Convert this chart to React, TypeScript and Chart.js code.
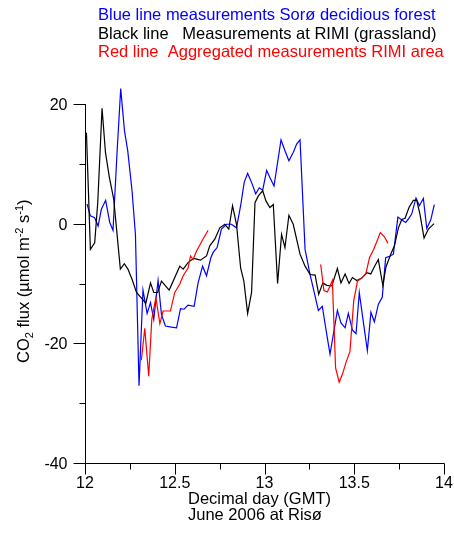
import React, { useEffect, useRef } from "react";
import { Chart, registerables } from "chart.js";

Chart.register(...registerables);

// ---- Data (decimal day, CO2 flux) ----
const blueDays = [
  12.011, 12.03, 12.054, 12.073, 12.091, 12.115, 12.138, 12.156, 12.178, 12.199,
  12.22, 12.238, 12.262, 12.281, 12.301, 12.323, 12.346, 12.365, 12.383, 12.407,
  12.426, 12.448, 12.482, 12.51, 12.532, 12.552, 12.574, 12.608, 12.63, 12.655,
  12.677, 12.701, 12.714, 12.736, 12.76, 12.788, 12.816, 12.844, 12.867, 12.887,
  12.906, 12.928, 12.951, 12.971, 12.99, 13.012, 13.03, 13.053, 13.092, 13.114,
  13.136, 13.16, 13.179, 13.198, 13.226, 13.254, 13.277, 13.3, 13.322, 13.343,
  13.365, 13.406, 13.426, 13.449, 13.467, 13.49, 13.51, 13.528, 13.55, 13.573,
  13.593, 13.612, 13.634, 13.656, 13.675, 13.7, 13.718, 13.743, 13.765, 13.787,
  13.807, 13.82, 13.844, 13.863, 13.885, 13.904, 13.926, 13.946,
];
const blueFlux = [
  3.3, 1.3, 1.0, -0.4, 2.4, 3.9, 0.2, -1.1, 11.6, 22.6,
  15.5, 12.2, 5.5, -1.8, -27.1, -11.1, -15.0, -13.2, -16.0, -9.5,
  -15.2, -17.1, -17.3, -17.4, -14.2, -14.3, -13.6, -13.8, -9.9, -7.1,
  -8.7, -5.7, -4.8, -4.0, -0.9, -0.1, -0.1, -0.7, 3.0, 6.9,
  8.4, 6.9, 5.0, 6.0, 5.6, 8.9, 7.7, 6.3, 14.0, 12.2,
  10.5, 11.9, 13.3, 14.0, -4.3, -8.5, -11.5, -14.5, -13.8, -17.8,
  -21.8, -14.5, -16.6, -17.4, -15.0, -17.8, -18.4, -11.5, -16.3, -21.2,
  -14.8, -16.4, -13.5, -12.3, -5.7, -5.4, -5.1, 1.1, 0.6, 0.2,
  1.0, 1.6, 4.3, 3.0, 4.2, -0.8, 0.6, 3.2,
];

const blackDays = [
  12.008, 12.03, 12.054, 12.071, 12.095, 12.114, 12.136, 12.16, 12.197, 12.219,
  12.239, 12.262, 12.287, 12.339, 12.365, 12.383, 12.405, 12.426, 12.469, 12.528,
  12.547, 12.574, 12.606, 12.643, 12.677, 12.695, 12.723, 12.751, 12.779, 12.801,
  12.822, 12.844, 12.867, 12.885, 12.906, 12.928, 12.947, 12.965, 12.99, 13.008,
  13.03, 13.049, 13.073, 13.095, 13.114, 13.136, 13.16, 13.198, 13.226, 13.254,
  13.282, 13.302, 13.325, 13.347, 13.375, 13.406, 13.426, 13.449, 13.471, 13.49,
  13.514, 13.542, 13.57, 13.592, 13.612, 13.634, 13.659, 13.677, 13.705, 13.724,
  13.746, 13.765, 13.783, 13.805, 13.829, 13.848, 13.866, 13.889, 13.913, 13.945,
];
const blackFlux = [
  15.2, -4.3, -3.2, 3.5, 19.3, 11.9, 7.7, 4.1, -7.6, -6.7,
  -7.6, -9.3, -11.5, -13.3, -9.9, -11.5, -11.5, -9.6, -11.1, -7.1,
  -7.6, -6.5, -5.8, -6.1, -5.4, -3.7, -2.6, -0.7, -0.1, -0.9,
  3.0, -0.1, -7.4, -9.6, -15.0, -11.5, 3.5, 4.6, 5.5, 3.8,
  2.7, 3.2, -10.0, -1.8, -4.0, 1.4, -0.1, -5.1, -7.1, -8.5,
  -8.6, -11.8, -9.9, -10.3, -10.4, -7.5, -9.9, -8.4, -10.0, -9.0,
  -9.5, -9.1, -8.2, -8.4, -7.2, -6.0, -10.3, -7.2, -5.0, -3.7,
  -0.7, 0.7, 0.9, 2.7, 3.9, 3.9, 1.6, -2.4, -0.9, 0.0,
];

// null separates the two measurement periods
const redDays = [
  12.314, 12.333, 12.355, 12.372, 12.395, 12.417, 12.435, 12.457, 12.476, 12.5,
  12.528, 12.547, 12.574, 12.588, 12.602, 12.621, 12.653, 12.686,
  13.0,
  13.313, 13.331, 13.35, 13.365, 13.378, 13.396, 13.416, 13.435, 13.455, 13.476,
  13.497, 13.518, 13.545, 13.565, 13.585, 13.608, 13.627, 13.645, 13.668, 13.688,
];
const redFlux: (number | null)[] = [
  -22.8, -17.5, -25.5, -16.0, -12.4, -16.7, -14.6, -14.6, -14.6, -11.5,
  -10.1, -8.7, -7.4, -5.4, -6.0, -4.6, -2.8, -1.1,
  null,
  -6.8, -11.2, -11.4, -10.4, -9.5, -24.1, -26.5, -25.1, -23.1, -21.4,
  -12.9, -9.6, -9.0, -8.3, -5.7, -4.3, -2.9, -1.5, -2.2, -3.3,
];

const xMajorTicks = [12, 12.5, 13, 13.5, 14];
const xMinorTicks = [12.25, 12.75, 13.25, 13.75];
const yMajorTicks = [20, 0, -20, -40];
const yMinorTicks = [10, -10, -30];

const titleLines = [
  { text: "Blue line measurements Sorø decidious forest", color: "#0000ff" },
  { text: "Black line   Measurements at RIMI (grassland)", color: "#000000" },
  { text: "Red line  Aggregated measurements RIMI area", color: "#ff0000" },
];
const xTitleLines = ["Decimal day (GMT)", "June 2006 at Risø"];

const FONT = '"Liberation Sans", Arial, Helvetica, sans-serif';

const toPoints = (xs: number[], ys: (number | null)[]) =>
  xs.map((x, i) => ({ x, y: ys[i] }));

const axesPlugin = {
  id: "customAxes",
  afterDraw(chart: any) {
    const ctx: CanvasRenderingContext2D = chart.ctx;
    const xs = chart.scales.x;
    const ys = chart.scales.y;
    const { left, right, top, bottom } = chart.chartArea;
    ctx.save();
    ctx.strokeStyle = "#000";
    ctx.lineWidth = 1;
    ctx.beginPath();
    const lx = Math.round(left) + 0.5;
    const by = Math.round(bottom) + 0.5;
    ctx.moveTo(lx, Math.round(top));
    ctx.lineTo(lx, by);
    ctx.moveTo(lx, by);
    ctx.lineTo(Math.round(right) + 0.5, by);
    // y ticks
    yMajorTicks.forEach((v) => {
      const py = Math.round(ys.getPixelForValue(v)) + 0.5;
      ctx.moveTo(lx, py);
      ctx.lineTo(lx - 12, py);
    });
    yMinorTicks.forEach((v) => {
      const py = Math.round(ys.getPixelForValue(v)) + 0.5;
      ctx.moveTo(lx, py);
      ctx.lineTo(lx - 6, py);
    });
    xMajorTicks.forEach((v) => {
      const px = Math.round(xs.getPixelForValue(v)) + 0.5;
      ctx.moveTo(px, by);
      ctx.lineTo(px, by + 11);
    });
    xMinorTicks.forEach((v) => {
      const px = Math.round(xs.getPixelForValue(v)) + 0.5;
      ctx.moveTo(px, by);
      ctx.lineTo(px, by + 6);
    });
    ctx.stroke();

    ctx.fillStyle = "#000";
    ctx.font = `16px ${FONT}`;
    ctx.textBaseline = "alphabetic";
    ctx.textAlign = "right";
    yMajorTicks.forEach((v) => {
      const py = ys.getPixelForValue(v);
      ctx.fillText(String(v), lx - 18, py + 6);
    });
    ctx.textAlign = "center";
    xMajorTicks.forEach((v) => {
      const px = xs.getPixelForValue(v);
      ctx.fillText(String(v), px, by + 24);
    });

    // x title (left aligned block)
    ctx.textAlign = "left";
    ctx.font = `16.5px ${FONT}`;
    ctx.fillText(xTitleLines[0], 188, 504);
    ctx.fillText(xTitleLines[1], 188, 519.5);

    // top legend-like title
    const baselines = [20, 38.5, 57];
    titleLines.forEach((l, i) => {
      ctx.fillStyle = l.color;
      ctx.fillText(l.text, 98, baselines[i]);
    });

    // y title with sub/superscripts
    ctx.fillStyle = "#000";
    ctx.translate(29, 363);
    ctx.rotate(-Math.PI / 2);
    const big = `16.5px ${FONT}`;
    const small = `11px ${FONT}`;
    const parts: [string, string, number][] = [
      ["CO", big, 0],
      ["2", small, 4],
      [" flux (\u00b5mol m", big, 0],
      ["-2", small, -6],
      [" s", big, 0],
      ["-1", small, -6],
      [")", big, 0],
    ];
    let cx = 0;
    parts.forEach(([t, f, dy]) => {
      ctx.font = f;
      ctx.fillText(t, cx, dy);
      cx += ctx.measureText(t).width;
    });
    ctx.restore();
  },
};

export default function App() {
  const ref = useRef<HTMLCanvasElement | null>(null);
  useEffect(() => {
    if (!ref.current) return;
    const chart = new Chart(ref.current, {
      type: "line",
      data: {
        datasets: [
          {
            label: "Aggregated RIMI area",
            data: toPoints(redDays, redFlux),
            borderColor: "#ff0000",
            borderWidth: 1.2,
            pointRadius: 0,
            spanGaps: false,
            clip: false,
            order: 1,
          },
          {
            label: "RIMI grassland",
            data: toPoints(blackDays, blackFlux),
            borderColor: "#000000",
            borderWidth: 1.2,
            pointRadius: 0,
            clip: false,
            order: 2,
          },
          {
            label: "Sorø forest",
            data: toPoints(blueDays, blueFlux),
            borderColor: "#0000ff",
            borderWidth: 1.2,
            pointRadius: 0,
            clip: false,
            order: 3,
          },
        ],
      },
      options: {
        responsive: false,
        animation: false,
        devicePixelRatio: 1,
        layout: { padding: { left: 85, right: 10, top: 104, bottom: 74 } },
        plugins: { legend: { display: false }, tooltip: { enabled: false } },
        elements: { line: { tension: 0 } },
        scales: {
          x: { type: "linear", min: 12, max: 14, display: false },
          y: { type: "linear", min: -40, max: 20, display: false },
        },
      },
      plugins: [axesPlugin],
    });
    return () => chart.destroy();
  }, []);
  return (
    <div style={{ position: "fixed", left: 0, top: 0, width: 454, height: 537, background: "#fff" }}>
      <canvas ref={ref} width={454} height={537} style={{ width: 454, height: 537 }} />
    </div>
  );
}
